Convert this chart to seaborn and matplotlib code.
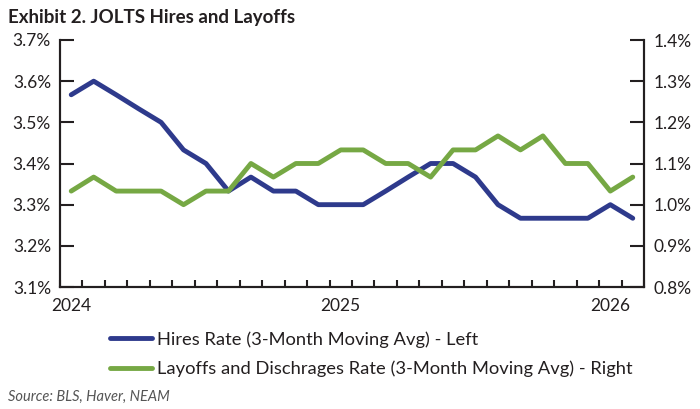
import pandas as pd
import numpy as np
import matplotlib.pyplot as plt
import seaborn as sns

sns.set_style("white")
plt.rcParams['font.family'] = ['Lato', 'DejaVu Sans']

# data (3-month moving averages)
months = pd.date_range('2024-01-01', periods=26, freq='MS').strftime('%Y-%m').tolist()
hires = [3.567, 3.6, 3.567, 3.533, 3.5, 3.433, 3.4, 3.333, 3.367, 3.333, 3.333, 3.3, 3.3,
         3.3, 3.333, 3.367, 3.4, 3.4, 3.367, 3.3, 3.267, 3.267, 3.267, 3.267, 3.3, 3.267]
layoffs = [1.033, 1.067, 1.033, 1.033, 1.033, 1.0, 1.033, 1.033, 1.1, 1.067, 1.1, 1.1, 1.133,
           1.133, 1.1, 1.1, 1.067, 1.133, 1.133, 1.167, 1.133, 1.167, 1.1, 1.1, 1.033, 1.067]
year_labels = ['2024', '2025', '2026']
hires_label = 'Hires Rate (3-Month Moving Avg) - Left'
layoffs_label = 'Layoffs and Dischrages Rate (3-Month Moving Avg) - Right'

data = pd.DataFrame({'month': months, 'hires': hires, 'layoffs': layoffs})
data['idx'] = np.arange(len(data))

blue = '#2E3A8C'
green = '#76A844'
ink = '#231F20'

fig = plt.figure(figsize=(7, 4.09), dpi=100)
ax = fig.add_axes([60/700, 1-287/409, 584/700, 247/409])
ax2 = ax.twinx()

sns.lineplot(x='idx', y='hires', data=data, ax=ax, color=blue, lw=3.5, label=hires_label)
sns.lineplot(x='idx', y='layoffs', data=data, ax=ax2, color=green, lw=3.5, label=layoffs_label)
h1, l1 = ax.get_legend_handles_labels()
h2, l2 = ax2.get_legend_handles_labels()
ax.get_legend().remove()
ax2.get_legend().remove()

ax.set_xlim(-0.5, len(data) - 0.5)
ax.set_ylim(3.1, 3.7)
ax2.set_ylim(0.8, 1.4)

# y axes
ax.set_yticks(np.arange(3.1, 3.71, 0.1))
ax.set_yticklabels([f'{v:.1f}%' for v in np.arange(3.1, 3.71, 0.1)])
ax2.set_yticks(np.arange(0.8, 1.41, 0.1))
ax2.set_yticklabels([f'{v:.1f}%' for v in np.arange(0.8, 1.41, 0.1)])
ax.tick_params(axis='y', direction='in', length=10, width=1.5, pad=6.5, labelsize=12.5, colors=ink, left=True)
ax2.tick_params(axis='y', direction='in', length=10, width=1.5, pad=7, labelsize=12.5, colors=ink, right=True)

# x axis: year labels at January, month ticks between categories
year_pos = [i for i, m in enumerate(months) if m.endswith('-01')]
ax.set_xticks(year_pos)
ax.set_xticklabels(year_labels)
ax.set_xticks(np.arange(-0.5, len(data), 1), minor=True)
ax.tick_params(axis='x', which='major', length=0, pad=8, labelsize=12.5, colors=ink)
ax.tick_params(axis='x', which='minor', direction='in', length=5, width=1.5, bottom=True, color=ink)

for a in (ax, ax2):
    a.set_xlabel('')
    a.set_ylabel('')
    a.spines['top'].set_visible(False)
    for s in ('left', 'right', 'bottom'):
        a.spines[s].set_linewidth(1.5)
        a.spines[s].set_color(ink)
ax.grid(False)
ax2.grid(False)

fig.text(8/700, 1-17/409, 'Exhibit 2. JOLTS Hires and Layoffs', fontsize=13.5,
         fontweight='bold', color=ink, va='center')
fig.legend(h1 + h2, l1 + l2, loc='upper left', bbox_to_anchor=(110/700, 1-331/409),
           frameon=False, fontsize=13.2, handlelength=2.3, handletextpad=0.25,
           labelspacing=0.72, borderpad=0, borderaxespad=0, labelcolor=ink)
fig.text(8/700, 1-397/409, 'Source: BLS, Haver, NEAM', fontsize=10.5, style='italic',
         color='#555555', va='center')

fig.savefig('out.png', dpi=100)
